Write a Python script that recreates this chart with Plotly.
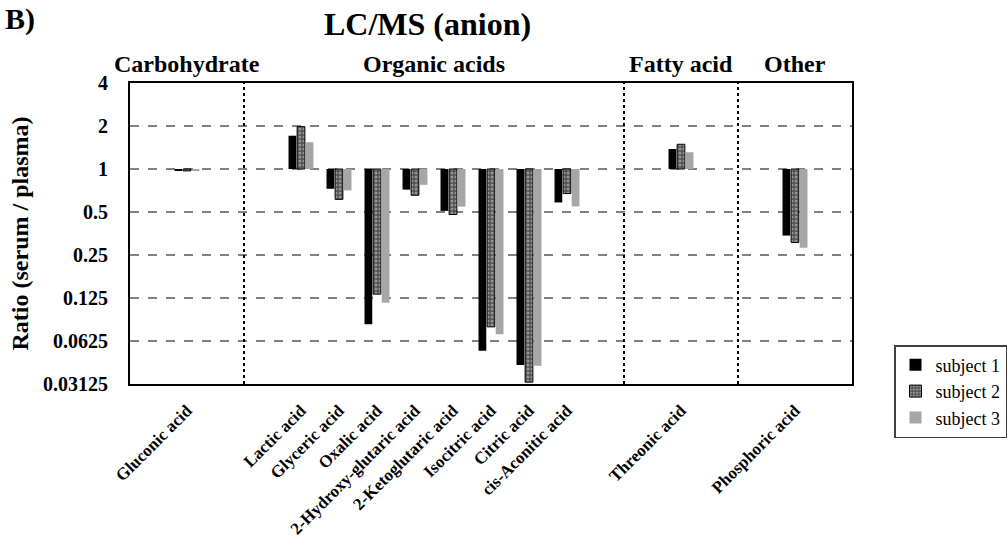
import plotly.graph_objects as go
import math

# ---- data ----
groups = ["Carbohydrate", "Organic acids", "Fatty acid", "Other"]
group_members = [
    ["Gluconic acid"],
    ["Lactic acid", "Glyceric acid", "Oxalic acid", "2-Hydroxy-glutaric acid",
     "2-Ketoglutaric acid", "Isocitric acid", "Citric acid", "cis-Aconitic acid"],
    ["Threonic acid"],
    ["Phosphoric acid"],
]
subject1 = [0.97, 1.71, 0.727, 0.082, 0.717, 0.509, 0.0534, 0.0424, 0.583, 1.38, 0.342]
subject2 = [0.97, 1.98, 0.613, 0.133, 0.655, 0.480, 0.0785, 0.0322, 0.673, 1.49, 0.306]
subject3 = [0.98, 1.54, 0.708, 0.116, 0.775, 0.545, 0.0698, 0.0420, 0.547, 1.31, 0.281]
series_names = ["subject 1", "subject 2", "subject 3"]
tick_vals = [0.03125, 0.0625, 0.125, 0.25, 0.5, 1, 2, 4]
tick_text = ["0.03125", "0.0625", "0.125", "0.25", "0.5", "1", "2", "4"]

# ---- slot layout: each group padded by one empty slot on each side ----
positions, names, seps, centers = [], [], [], []
slot = 0
for gi, members in enumerate(group_members):
    start = slot
    slot += 1
    for m in members:
        positions.append(slot)
        names.append(m)
        slot += 1
    slot += 1
    centers.append((start + slot - 1) / 2)
    if gi < len(group_members) - 1:
        seps.append(slot - 0.5)
nslots = slot

FONT = "Liberation Serif, Times New Roman, serif"

fig = go.Figure()
styles = [
    dict(color="#000000", line=dict(width=0)),
    dict(color="#606060", line=dict(color="#000000", width=1),
         pattern=dict(shape=".", fgcolor="#d8d8d8", bgcolor="#505050", size=4, solidity=0.45)),
    dict(color="#a6a6a6", line=dict(width=0)),
]
for name, vals, st in zip(series_names, [subject1, subject2, subject3], styles):
    fig.add_trace(go.Bar(
        x=positions, y=[v - 1 for v in vals], base=[1] * len(vals),
        name=name, marker=st,
        customdata=vals, hovertemplate="%{customdata}<extra>" + name + "</extra>",
    ))

shapes = []
for s in seps:
    shapes.append(dict(type="line", xref="x", yref="paper", x0=s, x1=s, y0=0, y1=1,
                       line=dict(color="black", width=2, dash="dot"), layer="above"))
shapes.append(dict(type="line", xref="paper", yref="y", x0=0, x1=1, y0=0, y1=0,
                   line=dict(color="black", width=2), layer="above"))

annotations = []
for g, c in zip(groups, centers):
    annotations.append(dict(text="<b>%s</b>" % g, x=c, xref="x", y=1, yref="paper",
                            yanchor="bottom", xanchor="center", showarrow=False, yshift=4,
                            font=dict(family=FONT, size=24, color="black")))
annotations.append(dict(text="<b>LC/MS (anion)</b>", x=(427 - 130) / 722, xref="paper",
                        y=(384 - 24) / 301, yref="paper", xanchor="center", yanchor="middle",
                        showarrow=False, font=dict(family=FONT, size=32, color="black")))
annotations.append(dict(text="<b>B)</b>", x=0, xref="paper", xshift=-127,
                        y=(384 - 19) / 301, yref="paper", xanchor="left", yanchor="middle",
                        showarrow=False, font=dict(family=FONT, size=30, color="black")))

fig.update_layout(
    width=1008, height=547,
    margin=dict(l=130, r=156, t=83, b=163, autoexpand=False),
    paper_bgcolor="white", plot_bgcolor="white",
    barmode="group", bargap=0.32, bargroupgap=0.1,
    font=dict(family=FONT, color="black"),
    shapes=shapes, annotations=annotations,
    legend=dict(xref="container", yref="container", x=894 / 1008, y=1 - 345 / 547,
                xanchor="left", yanchor="top",
                bordercolor="#404040", borderwidth=1.5, bgcolor="white",
                font=dict(family=FONT, size=18, color="black"), tracegroupgap=0),
    xaxis=dict(range=[-0.5, nslots - 0.5], tickmode="array", tickvals=positions,
               ticktext=["<b>%s</b>" % n for n in names], tickangle=-45,
               tickfont=dict(family=FONT, size=17, color="black"), automargin=False,
               showline=True, linecolor="black", linewidth=2, mirror=True,
               showgrid=False, zeroline=False, ticks="", ticklabelstandoff=8),
    yaxis=dict(type="log", range=[math.log10(0.03125), math.log10(4)], automargin=False,
               tickmode="array", tickvals=tick_vals, ticktext=["<b>%s</b>" % t for t in tick_text],
               tickfont=dict(family=FONT, size=20, color="black"),
               showline=True, linecolor="black", linewidth=2, mirror=True,
               showgrid=True, gridcolor="#808080", gridwidth=2, griddash="dash",
               zeroline=False, ticks="", ticklabelstandoff=16,
               title=dict(text="<b>Ratio (serum / plasma)</b>", standoff=8,
                          font=dict(family=FONT, size=24, color="black"))),
)

fig.write_html("out.html")
